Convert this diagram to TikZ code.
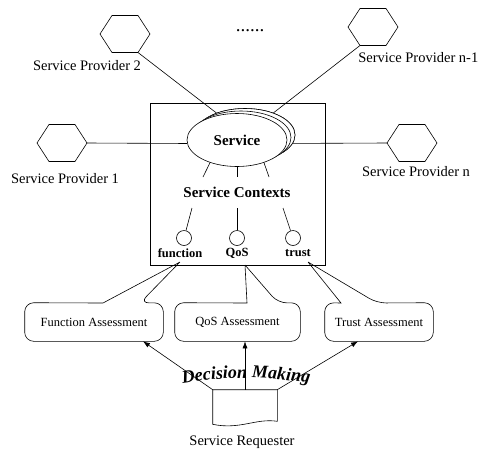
\documentclass[tikz,border=0pt]{standalone}
\usepackage{fontspec}
\setmainfont{Liberation Serif}
\usetikzlibrary{shapes.geometric,arrows.meta,calc,decorations.text}
\newcommand\dmfont{\fontsize{18}{20}\selectfont\bfseries\itshape}
\begin{document}
\begin{tikzpicture}[x=1pt,y=-1pt,line width=0.6pt,
  hexa/.pic={
    \draw[fill=white] (-25,0) -- (-13,-18.5) -- (13,-18.5) -- (25,0) -- (13,18.5) -- (-13,18.5) -- cycle;
    \coordinate (-e) at (25,0);
    \coordinate (-w) at (-25,0);
    \coordinate (-se) at (13,18.5);
    \coordinate (-sw) at (-13,18.5);},
  plabel/.style={font=\fontsize{14.5}{16}\selectfont, inner sep=0},
  svcell/.style={draw, ellipse, fill=white, minimum width=100, minimum height=53, inner sep=0},
  blabel/.style={font=\fontsize{15}{17}\selectfont\bfseries, inner sep=0},
  slabel/.style={font=\fontsize{12.5}{14}\selectfont\bfseries, inner sep=0},
  ctxnode/.style={draw, circle, minimum size=15, inner sep=0},
  abox/.style={font=\fontsize{12.5}{14}\selectfont, minimum height=38, inner sep=0},
  arr/.style={-{Latex[length=7,width=5]}}
]
\useasboundingbox (0,0) rectangle (481,453);

% service providers
\pic (sp2) at (125,34) {hexa};
\pic (spn1) at (373,27) {hexa};
\pic (sp1) at (62,143) {hexa};
\pic (spn) at (412,143) {hexa};
\node[plabel] (l2) at (87,66) {Service Provider 2};
\node[plabel, anchor=west] (ln1) at (358,58) {Service Provider n-1};
\node[plabel] (l1) at (65,179) {Service Provider 1};
\node[plabel] (ln) at (416,172) {Service Provider n};
\node[font=\fontsize{19}{20}\selectfont, inner sep=0] (dots) at (250,31) {......};

% context box
\node[draw, minimum width=175, minimum height=162, inner sep=0] (ctxbox) at (237.5,184) {};

% stacked service ellipses
\node[svcell] (svc3) at (245,135) {};
\node[svcell, draw=none, fill=none] (svc2) at (241,137.5) {};
\node[svcell, draw=none, fill=none] (svc) at (237,140) {};

\draw (sp2-se) -- (svc3);
\draw (spn1-sw) -- (svc3);
\draw (sp1-e) -- (svc.184);
\draw (svc3.-10) -- (spn-w);

\node[svcell] at (svc3) {};
\node[svcell] at (svc2) {};
\node[svcell] at (svc) {};
\node[blabel] (svctext) at (svc) {Service};

% contexts
\node[blabel] (ctx) at (237,192) {Service Contexts};
\coordinate (c1) at (203,177);
\coordinate (c2) at (237,177);
\coordinate (c3) at (269,177);
\draw (svc.-140) -- (c1);
\draw (svc.south) -- (c2);
\draw (svc.-40) -- (c3);

\coordinate (s1) at (192,208);
\coordinate (s2) at (237,208);
\coordinate (s3) at (283,208);
\node[ctxnode] (fc) at (184,238) {};
\node[ctxnode] (qc) at (237,238) {};
\node[ctxnode] (tc) at (293,238) {};
\draw (s1) -- (fc);
\draw (s2) -- (qc);
\draw (s3) -- (tc);
\node[slabel] (fl) at (180,253) {function};
\node[slabel] (ql) at (237,253) {QoS};
\node[slabel] (tl) at (298,253) {trust};

% assessment callouts
\coordinate (ftip) at (180,262);
\coordinate (qtip) at (245,265);
\coordinate (ttip) at (308,262);
\node[abox, minimum width=138] (fa) at (94,322) {Function Assessment};
\node[abox, minimum width=125] (qa) at (237.5,322) {QoS Assessment};
\node[abox, minimum width=108] (ta) at (379,322) {Trust Assessment};
\draw (ftip) -- (103,303) [rounded corners=9] -- (fa.north west) -- (fa.south west)
  -- (fa.south east) -- (fa.north east) -- (140,303) [sharp corners] -- (ftip);
\draw (qtip) -- (247,303) [rounded corners=9] -- (qa.north west) -- (qa.south west)
  -- (qa.south east) -- (qa.north east) -- (278,303) [sharp corners] -- (qtip);
\draw (ttip) -- (341,303) [rounded corners=9] -- (ta.north west) -- (ta.south west)
  -- (ta.south east) -- (ta.north east) -- (377,303) [sharp corners] -- (ttip);

% service requester
\node[minimum width=64, minimum height=34, inner sep=0] (doc) at (245,407) {};
\draw (doc.north west) -- (doc.north east) -- ($(doc.south east)+(0,-3)$)
  .. controls (256,418) and (240,430) .. (doc.south west) -- cycle;
\node[plabel] (req) at (242,442) {Service Requester};

\draw[arr] (doc.north west) -- ([xshift=49]fa.south);
\draw[arr] (doc.north) -- (doc.north |- qa.south);
\draw[arr] (doc.north east) -- ([xshift=-21]ta.south);

\path[decorate, decoration={text along path, text align=center,
  text={|\dmfont|Decision Making}}] (178,384) .. controls (222,376) and (268,376) .. (314,384);
\end{tikzpicture}
\end{document}
